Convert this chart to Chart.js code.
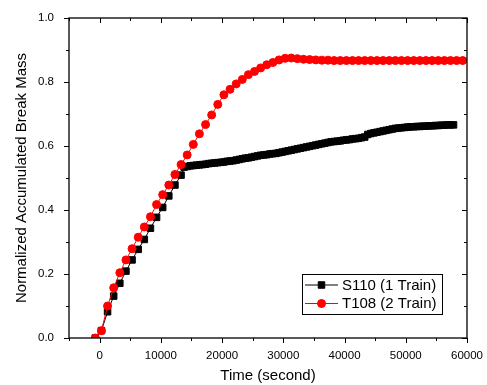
<!DOCTYPE html>
<html>
<head>
<meta charset="utf-8">
<script src="https://cdn.jsdelivr.net/npm/chart.js@4/dist/chart.umd.min.js"></script>
<style>
html,body{margin:0;padding:0;background:#fff;}
#wrap{width:487px;height:385px;}
</style>
</head>
<body>
<div id="wrap"><canvas id="c" width="487" height="385"></canvas></div>
<script>
// ---- data ----
const seriesNames = ['S110 (1 Train)', 'T108 (2 Train)'];

const s110Time = [
  -700, 300, 1300, 2300, 3300, 4300, 5300, 6300, 7300, 8300, 9300, 10300, 11300, 12300, 13300,
  13800, 14300, 14800, 15300, 15800, 16300, 16800, 17300, 17800, 18300, 18800, 19300, 19800,
  20300, 20800, 21300, 21800, 22300, 22800, 23300, 23800, 24300, 24800, 25300, 25800, 26300,
  26800, 27300, 27800, 28300, 28800, 29300, 29800, 30300, 30800, 31300, 31800, 32300, 32800,
  33300, 33800, 34300, 34800, 35300, 35800, 36300, 36800, 37300, 37800, 38300, 38800, 39300,
  39800, 40300, 40800, 41300, 41800, 42300, 42800, 43300, 43800, 44300, 44800, 45300, 45800,
  46300, 46800, 47300, 47800, 48300, 48800, 49300, 49800, 50300, 50800, 51300, 51800, 52300,
  52800, 53300, 53800, 54300, 54800, 55300, 55800, 56300, 56800, 57300, 57800
];
const s110Mass = [
  0.000, 0.023, 0.082, 0.131, 0.171, 0.209, 0.244, 0.277, 0.308, 0.343, 0.377, 0.408, 0.444, 0.478, 0.509,
  0.534, 0.536, 0.538, 0.539, 0.540, 0.541, 0.542, 0.543, 0.545, 0.546, 0.547, 0.548, 0.549,
  0.550, 0.552, 0.553, 0.554, 0.556, 0.558, 0.560, 0.562, 0.563, 0.565, 0.567, 0.569, 0.571,
  0.572, 0.573, 0.575, 0.576, 0.577, 0.579, 0.581, 0.583, 0.585, 0.587, 0.589, 0.591, 0.593,
  0.595, 0.597, 0.599, 0.601, 0.603, 0.605, 0.607, 0.609, 0.611, 0.613, 0.614, 0.615, 0.616,
  0.618, 0.619, 0.620, 0.622, 0.623, 0.624, 0.626, 0.628, 0.636, 0.639, 0.641, 0.643, 0.645,
  0.647, 0.649, 0.651, 0.653, 0.655, 0.656, 0.657, 0.658, 0.659, 0.660, 0.660, 0.661, 0.661,
  0.662, 0.662, 0.663, 0.663, 0.664, 0.664, 0.665, 0.665, 0.666, 0.666, 0.666
];

const t108Time = [
  -700, 300, 1300, 2300, 3300, 4300, 5300, 6300, 7300, 8300, 9300, 10300, 11300, 12300, 13300,
  14300, 15300, 16300, 17300, 18300, 19300, 20300, 21300, 22300, 23300, 24300, 25300, 26300,
  27300, 28300, 29300, 30300, 31300, 32300, 33300, 34300, 35300, 36300, 37300, 38300, 39300,
  40300, 41300, 42300, 43300, 44300, 45300, 46300, 47300, 48300, 49300, 50300, 51300, 52300,
  53300, 54300, 55300, 56300, 57300, 58300, 59300
];
const t108Mass = [
  0.000, 0.023, 0.100, 0.157, 0.204, 0.244, 0.279, 0.315, 0.347, 0.379, 0.417, 0.448, 0.478, 0.511, 0.542,
  0.572, 0.605, 0.638, 0.667, 0.697, 0.730, 0.760, 0.777, 0.794, 0.808, 0.823, 0.833, 0.844,
  0.854, 0.861, 0.869, 0.874, 0.875, 0.873, 0.871, 0.870, 0.869, 0.868, 0.868, 0.867, 0.867,
  0.867, 0.867, 0.867, 0.867, 0.867, 0.867, 0.867, 0.867, 0.867, 0.867, 0.867, 0.867, 0.867,
  0.867, 0.867, 0.867, 0.867, 0.867, 0.867, 0.867
];

const xMin = -5000, xMax = 60000, xMajor = 10000, xMinor = 5000;
const yMin = 0, yMax = 1.0, yMajor = 0.2, yMinor = 0.1;
const xTitle = 'Time (second)';
const yTitle = 'Normalized Accumulated Break Mass';

const FONT = "'Liberation Sans', Arial, sans-serif";

function toPoints(xs, ys) { return xs.map((v, i) => ({x: v, y: ys[i]})); }

const framePlugin = {
  id: 'frame',
  afterDatasetsDraw(chart) {
    const {ctx, chartArea: a, scales: {x, y}} = chart;
    ctx.save();
    ctx.strokeStyle = '#000';
    ctx.lineWidth = 1.3;
    ctx.strokeRect(a.left, a.top, a.right - a.left, a.bottom - a.top);
    ctx.lineWidth = 1;
    ctx.beginPath();
    const nx = Math.round((xMax - xMin) / xMinor);
    for (let i = 0; i <= nx; i++) {
      const v = xMin + i * xMinor;
      const px = Math.round(x.getPixelForValue(v)) + 0.5;
      const len = (Math.abs(v % xMajor) < 1e-6) ? 5 : 3;
      ctx.moveTo(px, a.bottom); ctx.lineTo(px, a.bottom + len);
      ctx.moveTo(px, a.top); ctx.lineTo(px, a.top + len);
    }
    const ny = Math.round((yMax - yMin) / yMinor);
    for (let i = 0; i <= ny; i++) {
      const v = yMin + i * yMinor;
      const py = Math.round(y.getPixelForValue(v)) + 0.5;
      const len = (i % 2 === 0) ? 5 : 3;
      ctx.moveTo(a.left, py); ctx.lineTo(a.left - len, py);
      ctx.moveTo(a.right, py); ctx.lineTo(a.right - len, py);
    }
    ctx.stroke();
    ctx.restore();
  }
};

const legendPlugin = {
  id: 'boxLegend',
  afterDraw(chart) {
    const {ctx} = chart;
    const bx = 302.5, by = 274.5, bw = 140, bh = 40;
    ctx.save();
    ctx.fillStyle = '#fff';
    ctx.fillRect(bx, by, bw, bh);
    ctx.strokeStyle = '#000';
    ctx.lineWidth = 1;
    ctx.strokeRect(bx, by, bw, bh);
    const rows = [285, 303.5];
    const order = [1, 0]; // dataset index for S110, T108
    order.forEach((di, r) => {
      const ds = chart.data.datasets[di];
      const yy = rows[r];
      ctx.strokeStyle = ds.borderColor;
      ctx.lineWidth = 1;
      ctx.beginPath(); ctx.moveTo(305, yy); ctx.lineTo(338, yy); ctx.stroke();
      ctx.fillStyle = ds.pointBackgroundColor;
      ctx.strokeStyle = ds.pointBorderColor;
      Chart.helpers.drawPoint(ctx, {pointStyle: ds.pointStyle, radius: ds.pointRadius, borderWidth: 1, rotation: 0}, 321.5, yy);
      ctx.fillStyle = '#000';
      ctx.font = '15px ' + FONT;
      ctx.textBaseline = 'middle';
      ctx.textAlign = 'left';
      ctx.fillText(ds.label, 342, yy + 0.5);
    });
    ctx.restore();
  }
};

Chart.defaults.font.family = FONT;
Chart.defaults.color = '#000';

new Chart(document.getElementById('c'), {
  type: 'scatter',
  data: {
    datasets: [
      {
        label: seriesNames[1],
        data: toPoints(t108Time, t108Mass),
        showLine: true,
        borderColor: '#ff0000',
        backgroundColor: '#ff0000',
        pointBackgroundColor: '#ff0000',
        pointBorderColor: '#ff0000',
        pointStyle: 'circle',
        pointRadius: 4,
        pointBorderWidth: 1,
        borderWidth: 1,
        order: 0
      },
      {
        label: seriesNames[0],
        data: toPoints(s110Time, s110Mass),
        showLine: true,
        borderColor: '#000000',
        backgroundColor: '#000000',
        pointBackgroundColor: '#000000',
        pointBorderColor: '#000000',
        pointStyle: 'rect',
        pointRadius: 4.6,
        pointBorderWidth: 1,
        borderWidth: 1,
        order: 1
      }
    ]
  },
  options: {
    responsive: false,
    animation: false,
    devicePixelRatio: 1,
    layout: {padding: {top: 18, right: 20, left: 0, bottom: 0}},
    plugins: {legend: {display: false}, tooltip: {enabled: false}},
    scales: {
      x: {
        type: 'linear',
        min: xMin, max: xMax,
        afterFit: s => { s.height = 47; s.paddingLeft = 0; s.paddingRight = 0; },
        grid: {display: false, drawTicks: false},
        border: {display: false},
        ticks: {
          stepSize: xMinor,
          autoSkip: false,
          maxRotation: 0,
          padding: 11,
          font: {size: 11.5},
          callback: v => (Math.abs(v % xMajor) < 1e-6 ? String(v) : '')
        },
        title: {display: true, text: xTitle, font: {size: 15}, padding: {top: 0, bottom: 0}}
      },
      y: {
        min: yMin, max: yMax,
        afterFit: s => { s.width = 69; s.paddingTop = 0; s.paddingBottom = 0; },
        grid: {display: false, drawTicks: false},
        border: {display: false},
        ticks: {
          stepSize: yMinor,
          autoSkip: false,
          padding: 15,
          font: {size: 11.5},
          callback: v => (Math.round(v * 10) % 2 === 0 ? v.toFixed(1) : '')
        },
        title: {display: true, text: yTitle, font: {size: 15}, padding: {top: 13, bottom: 0}}
      }
    }
  },
  plugins: [framePlugin, legendPlugin]
});
</script>
</body>
</html>
